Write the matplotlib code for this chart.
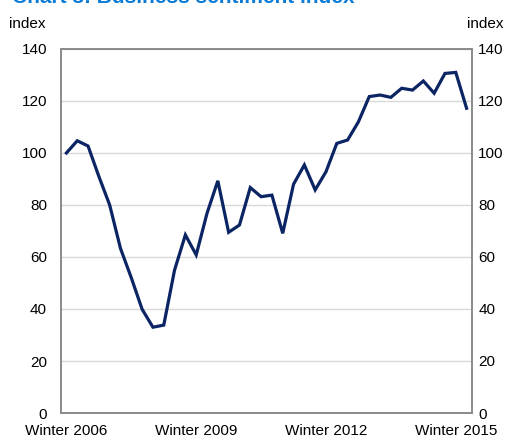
import matplotlib
matplotlib.use('Agg')
import matplotlib.pyplot as plt

# quarterly business sentiment index, Winter 2006 onwards
values = [100, 104.7, 102.7, 91, 80, 63.3, 52, 39.9, 33, 33.8,
          55, 68.5, 60.8, 76.8, 89.3, 69.5, 72.3, 86.7, 83.2, 83.8,
          69.1, 88, 95.4, 85.8, 92.8, 103.7, 105, 112, 121.7, 122.3,
          121.4, 124.9, 124.2, 127.7, 123, 130.6, 131, 117.2]
tick_pos = [0, 12, 24, 36]
tick_labels = ['Winter 2006', 'Winter 2009', 'Winter 2012', 'Winter 2015']
y_ticks = [0, 20, 40, 60, 80, 100, 120, 140]

plt.rcParams['font.family'] = ['Liberation Sans', 'DejaVu Sans']

W, H = 513, 440
fig = plt.figure(figsize=(W / 100, H / 100), dpi=100)
ax = fig.add_axes([61 / W, 27 / H, (472 - 61) / W, (413 - 49) / H])

ax.plot(range(len(values)), values, color='#0b2463', lw=2.3,
        solid_joinstyle='miter', zorder=3)

ax.set_xlim(-0.5, len(values) - 0.5)
ax.set_ylim(0, 140)
ax.set_yticks(y_ticks)
ax.set_xticks(tick_pos)
ax.set_xticklabels(tick_labels)
ax.grid(axis='y', color='#d9d9d9', lw=1.0)
ax.set_axisbelow(True)
ax.tick_params(axis='both', length=0, labelsize=11, colors='#000000')
ax.tick_params(axis='y', pad=10)
ax.tick_params(axis='x', pad=8)

# right-hand axis mirrors the left one
ax2 = ax.twinx()
ax2.set_ylim(ax.get_ylim())
ax2.set_yticks(y_ticks)
ax2.tick_params(axis='y', length=0, labelsize=11, pad=4.5, colors='#000000')

for a in (ax, ax2):
    for s in a.spines.values():
        s.set_color('#8c8c8c')
        s.set_linewidth(1.3)

fig.text(9 / W, 1 - 24 / H, 'index', fontsize=11, va='center', ha='left')
fig.text(504 / W, 1 - 24 / H, 'index', fontsize=11, va='center', ha='right')
fig.text(12 / W, 1 - 3 / H, 'Chart 3: Business sentiment index', fontsize=15,
         fontweight='bold', color='#0a7bd6', va='baseline', ha='left')

fig.savefig('out.png', dpi=100)
